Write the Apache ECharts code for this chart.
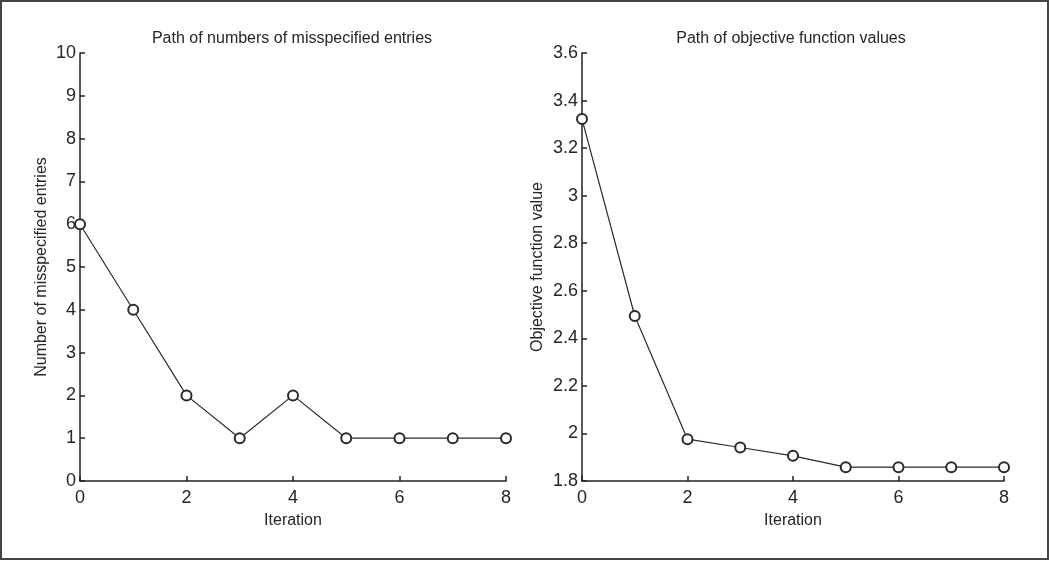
<!DOCTYPE html>
<html><head><meta charset="utf-8">
<script src="https://cdn.jsdelivr.net/npm/echarts@6/dist/echarts.min.js"></script>
<style>html,body{margin:0;padding:0;background:#fff}#c{width:1050px;height:561px}</style>
</head><body><div id="c"></div>
<script>
var iterations = [0,1,2,3,4,5,6,7,8];
var misspecified = [6,4,2,1,2,1,1,1,1];
var objective = [3.322,2.494,1.976,1.941,1.906,1.858,1.858,1.858,1.858];
var titles = ['Path of numbers of misspecified entries','Path of objective function values'];
var yNames = ['Number of misspecified entries','Objective function value'];
var xName = 'Iteration';

var FONT = 'Liberation Sans, Arial, sans-serif';
var TXT = '#262626';
var chart = echarts.init(document.getElementById('c'));
function xAxis(i){
  return {type:'value', gridIndex:i, min:0, max:8, interval:2,
    name:xName, nameLocation:'middle', nameGap:32,
    nameTextStyle:{color:TXT, fontSize:16, fontFamily:FONT},
    axisLine:{show:true, lineStyle:{color:'#222', width:1.5}},
    axisTick:{show:true, inside:true, length:5, lineStyle:{color:'#222', width:1.5}},
    axisLabel:{color:TXT, fontSize:18, fontFamily:FONT, margin:8},
    splitLine:{show:false}};
}
function yAxis(i,min,max,interval,gap){
  return {type:'value', gridIndex:i, min:min, max:max, interval:interval,
    name:yNames[i], nameLocation:'middle', nameGap:gap,
    nameTextStyle:{color:TXT, fontSize:16, fontFamily:FONT},
    axisLine:{show:true, lineStyle:{color:'#222', width:1.5}},
    axisTick:{show:true, inside:true, length:5, lineStyle:{color:'#222', width:1.5}},
    axisLabel:{color:TXT, fontSize:18, fontFamily:FONT, margin:4},
    splitLine:{show:false}};
}
function pts(arr){ return iterations.map(function(x,k){return [x, arr[k]];}); }
chart.setOption({
  animation:false,
  backgroundColor:'#fff',
  title:[
    {text:titles[0], left:287, top:26, textAlign:'center', textStyle:{color:TXT, fontSize:16, fontWeight:'normal', fontFamily:FONT}},
    {text:titles[1], left:786, top:26, textAlign:'center', textStyle:{color:TXT, fontSize:16, fontWeight:'normal', fontFamily:FONT}}
  ],
  grid:[
    {left:80, top:53, width:426, height:428},
    {left:582, top:53, width:422, height:428}
  ],
  xAxis:[xAxis(0), xAxis(1)],
  yAxis:[yAxis(0,0,10,1,30), yAxis(1,1.8,3.6,0.2,36)],
  series:[
    {type:'line', xAxisIndex:0, yAxisIndex:0, data:pts(misspecified), symbol:'emptyCircle', symbolSize:10,
     lineStyle:{color:'#2a2a2a', width:1.2}, itemStyle:{color:'#2a2a2a', borderColor:'#2a2a2a', borderWidth:1.3}},
    {type:'line', xAxisIndex:1, yAxisIndex:1, data:pts(objective), symbol:'emptyCircle', symbolSize:10,
     lineStyle:{color:'#2a2a2a', width:1.2}, itemStyle:{color:'#2a2a2a', borderColor:'#2a2a2a', borderWidth:1.3}}
  ],
  graphic:[{type:'rect', shape:{x:1, y:1, width:1047, height:558}, style:{fill:'none', stroke:'#444', lineWidth:2}, silent:true}]
});
</script></body></html>
